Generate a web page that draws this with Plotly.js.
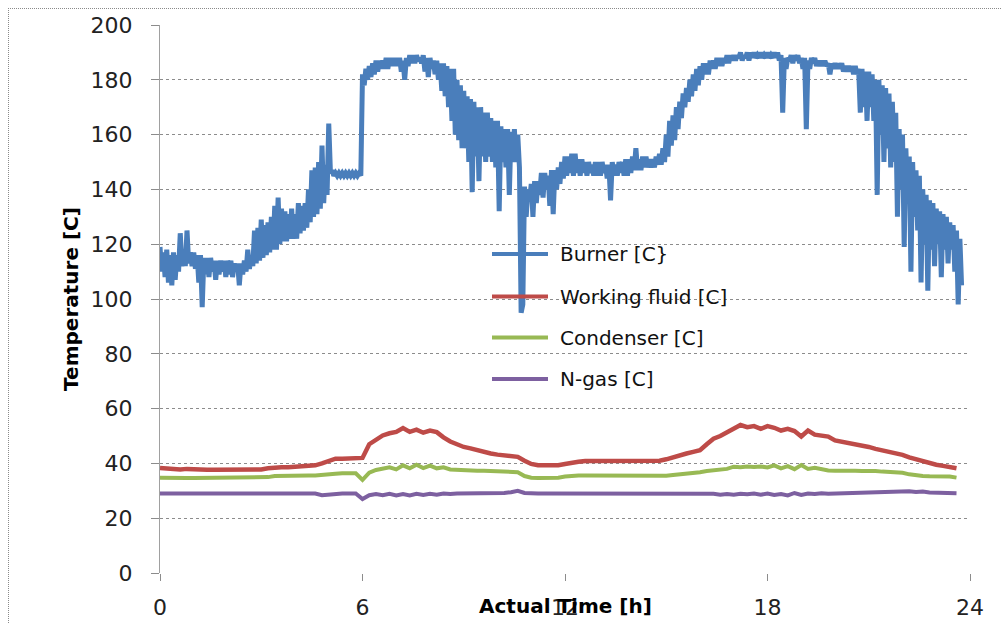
<!DOCTYPE html>
<html>
<head>
<meta charset="utf-8">
<script src="https://cdn.plot.ly/plotly-3.0.1.min.js"></script>
<style>
  html, body { margin: 0; padding: 0; background: #fff; overflow: hidden; }
  #wrap { position: relative; width: 1002px; height: 624px; }
  #chart { position: absolute; left: 0; top: 0; width: 1002px; height: 624px; }
  #frame { position: absolute; left: 8px; top: 8px; width: 1200px; height: 800px;
           border-top: 1px dotted #8a8a8a; border-left: 1px dotted #8a8a8a; pointer-events: none; }
</style>
</head>
<body>
<div id="wrap"><div id="chart"></div><div id="frame"></div></div>
<script>
// ---------------- data ----------------
const seriesNames = ["Burner [C}", "Working fluid [C]", "Condenser [C]", "N-gas [C]"];
const xTickVals = [0, 6, 12, 18, 24];
const xTickText = ["0", "6", "12", "18", "24"];

// Burner samples, every 0.05 h from 0.00 h to 23.75 h (one row per hour)
const burnerC = [
  119,110, 117,108, 118,106, 116,105, 117,107, 116,110, 124,112, 118,112, 125,113, 117,112,
  117,111, 116,106, 116,97,  115,109, 115,108, 115,110, 114,107, 114,109, 114,110, 114,108,
  114,109, 114,108, 113,110, 113,105, 113,109, 114,110, 118,111, 116,112, 125,113, 126,114,
  129,115, 127,116, 128,117, 130,118, 134,118, 137,120, 133,121, 132,121, 131,122, 133,122,
  131,122, 135,124, 134,125, 135,126, 140,128, 147,130, 148,131, 150,133, 156,135, 149,138,
  164,146, 147,145, 146,145, 146,145, 146,145, 146,145, 146,145, 146,145, 146,145, 146,145,
  182,178, 184,180, 185,181, 186,182, 187,183, 187,184, 187,184, 188,184, 188,185, 188,185,
  188,185, 188,183, 187,180, 188,185, 189,186, 189,186, 189,187, 188,186, 189,183, 188,181,
  188,184, 187,182, 187,180, 186,176, 186,174, 185,170, 184,165, 184,160, 180,158, 178,155,
  176,155, 174,150, 173,139, 172,152, 170,143, 170,152, 168,150, 168,152, 166,150, 165,148,
  165,132, 163,150, 162,148, 162,138, 161,150, 162,150, 160,148, 95,98,   141,130, 140,136,
  142,130, 143,135, 143,138, 146,137, 146,140, 145,134, 147,131, 147,140, 148,142, 150,144,
  152,145, 152,146, 153,145, 153,146, 151,145, 151,146, 150,145, 150,146, 149,145, 150,145,
  150,145, 150,146, 149,144, 149,136, 150,145, 149,145, 150,146, 150,145, 151,145, 151,146,
  152,147, 155,147, 151,147, 152,148, 152,148, 151,148, 151,148, 152,149, 153,149, 155,150,
  160,152, 165,156, 167,158, 170,162, 172,166, 175,170, 177,172, 180,174, 182,176, 184,178,
  185,180, 186,182, 186,182, 187,184, 187,184, 188,185, 188,185, 188,186, 189,186, 189,187,
  189,187, 189,188, 190,187, 189,188, 190,187, 190,188, 190,188, 189,188, 190,188, 189,188,
  190,188, 189,188, 190,188, 190,187, 189,168, 188,184, 188,187, 189,186, 189,187, 189,186,
  188,184, 188,162, 187,184, 188,186, 188,185, 187,185, 187,185, 187,185, 186,182, 186,184,
  186,184, 186,184, 186,183, 185,183, 185,183, 185,182, 185,182, 184,168, 184,170, 183,165,
  183,170, 182,165, 180,138, 180,160, 178,150, 177,155, 175,148, 172,150, 168,130, 162,140,
  160,119, 155,135, 152,110, 150,130, 147,125, 145,106, 140,120, 138,103, 136,118, 135,112,
  133,120, 132,108, 131,118, 130,113, 128,118, 127,110, 125,98,  122,105
];

// Other sensors, every 0.2 h from 0.0 h to 23.6 h
const workingFluidC = [
  38.3, 38.0, 37.8, 37.8, 38.0, 37.8, 37.7, 37.7, 37.7, 37.7,
  37.7, 37.7, 37.7, 37.8, 37.8, 37.8, 38.2, 38.5, 38.6, 38.6,
  38.8, 39.0, 39.2, 39.3, 40.0, 41.0, 41.7, 41.7, 41.7, 41.7,
  42.0, 47.0, 48.5, 50.2, 51.0, 51.5, 52.9, 51.5, 52.3, 51.2,
  52.0, 51.4, 49.5, 48.0, 47.0, 46.0, 45.5, 44.8, 44.2, 43.6,
  43.2, 43.0, 42.8, 42.4, 41.0, 39.8, 39.3, 39.2, 39.2, 39.3,
  39.8, 40.4, 40.6, 40.9, 40.9, 40.9, 40.9, 41.0, 40.9, 40.9,
  40.9, 40.9, 41.0, 41.0, 41.0, 41.5, 42.3, 43.1, 43.6, 44.2,
  44.8, 47.0, 49.0, 50.0, 51.4, 52.5, 54.0, 53.2, 53.6, 52.6,
  53.6, 53.0, 52.0, 52.6, 51.8, 49.8, 52.0, 50.5, 50.2, 49.8,
  48.4, 48.0, 47.6, 47.2, 46.6, 46.0, 45.3, 44.8, 44.2, 43.6,
  43.1, 42.2, 41.5, 40.6, 40.0, 39.5, 39.1, 38.7, 38.2
];
const condenserC = [
  34.8, 34.7, 34.7, 34.7, 34.7, 34.7, 34.7, 34.7, 34.7, 34.7,
  34.7, 34.7, 34.7, 34.7, 34.7, 34.8, 35.0, 35.4, 35.5, 35.5,
  35.5, 35.5, 35.6, 35.6, 35.7, 35.8, 36.2, 36.4, 36.4, 36.4,
  34.0, 36.6, 37.6, 38.0, 38.6, 37.8, 39.3, 38.2, 39.5, 38.3,
  39.2, 38.2, 38.6, 37.8, 37.6, 37.4, 37.4, 37.3, 37.3, 37.2,
  37.2, 37.1, 37.0, 36.8, 35.4, 34.8, 34.7, 34.7, 34.7, 34.8,
  35.2, 35.5, 35.6, 35.6, 35.6, 35.6, 35.6, 35.6, 35.6, 35.6,
  35.6, 35.6, 35.6, 35.6, 35.4, 35.5, 35.8, 36.0, 36.3, 36.6,
  36.8, 37.2, 37.4, 37.6, 38.0, 38.8, 38.6, 38.9, 38.7, 38.9,
  38.5, 39.3, 38.2, 39.0, 37.9, 39.4, 38.0, 38.4, 37.8, 37.4,
  37.3, 37.4, 37.3, 37.3, 37.2, 37.3, 37.2, 37.0, 36.9, 36.8,
  36.6, 36.0, 35.6, 35.4, 35.3, 35.3, 35.3, 35.2, 34.8
];
const nGasC = [
  29.0, 29.0, 29.0, 29.0, 29.0, 29.0, 29.0, 29.0, 29.0, 29.0,
  29.0, 29.0, 29.0, 29.0, 29.0, 29.0, 29.0, 29.0, 29.0, 29.0,
  29.0, 29.0, 29.0, 29.0, 28.4, 28.6, 29.0, 29.0, 29.0, 29.0,
  27.0, 28.4, 28.8, 28.4, 28.9, 28.3, 28.8, 28.3, 28.9, 28.5,
  28.9, 28.6, 29.0, 28.8, 29.0, 29.0, 29.1, 29.0, 29.1, 29.0,
  29.1, 29.2, 29.5, 30.0, 29.2, 29.0, 29.0, 29.0, 29.0, 29.0,
  29.0, 29.0, 29.0, 29.0, 29.0, 29.0, 29.0, 29.0, 29.0, 29.0,
  29.0, 29.0, 29.0, 28.9, 29.0, 28.9, 28.9, 28.8, 29.0, 28.8,
  28.8, 28.7, 28.9, 28.6, 28.8, 28.6, 28.9, 28.7, 29.0, 28.6,
  29.0, 28.5, 28.8, 28.3, 29.2, 28.5, 29.0, 28.8, 29.1, 28.9,
  29.0, 29.0, 29.1, 29.1, 29.2, 29.4, 29.5, 29.6, 29.7, 29.7,
  29.7, 29.8, 29.6, 29.7, 29.4, 29.3, 29.2, 29.1, 29.1
];

// sampling times (hours)
const burnerStepH = 0.05;
const sensorStepH = 0.2;
const burnerTime = burnerC.map((_, i) => +(i * burnerStepH).toFixed(2));
const sensorTime = workingFluidC.map((_, i) => +(i * sensorStepH).toFixed(2));

// ---------------- styling ----------------
const colors = ["#4A7EBB", "#BE4B48", "#98B954", "#7D60A0"];
const lineW = [5, 4.5, 4, 4];
const gridCol = "#8c8c8c";
const FONT = "DejaVu Sans, Verdana, sans-serif";

const ys = [burnerC, workingFluidC, condenserC, nGasC];
const xs = [burnerTime, sensorTime, sensorTime, sensorTime];

const traces = ys.map((y, i) => ({
  type: "scatter", mode: "lines", name: seriesNames[i],
  x: xs[i], y: y,
  line: { color: colors[i], width: lineW[i], shape: "linear" },
  showlegend: false, hoverinfo: "skip"
}));

// plot-area geometry (pixels) for the hand-placed legend
const M = { l: 160, r: 32, t: 25, b: 51 };
const W = 1002, H = 624;
const pw = W - M.l - M.r, ph = H - M.t - M.b;
const px = v => (v - M.l) / pw;
const py = v => (H - M.b - v) / ph;

const legendRowsY = [254, 296.5, 337.5, 379];
const shapes = legendRowsY.map((yy, i) => ({
  type: "line", xref: "paper", yref: "paper",
  x0: px(492), x1: px(548), y0: py(yy), y1: py(yy),
  line: { color: colors[i], width: 4 }
}));
const annotations = legendRowsY.map((yy, i) => ({
  xref: "paper", yref: "paper", x: px(558), y: py(yy),
  xanchor: "left", yanchor: "middle", showarrow: false,
  text: seriesNames[i], font: { family: FONT, size: 20, color: "#111" }
}));
annotations.push({
  xref: "paper", yref: "paper", x: 0.5, y: py(606),
  xanchor: "center", yanchor: "middle", showarrow: false,
  text: "<b>Actual Time [h]</b>", font: { family: FONT, size: 20, color: "#000" }
});

const layout = {
  width: W, height: H,
  margin: M,
  paper_bgcolor: "rgba(0,0,0,0)", plot_bgcolor: "#fff",
  showlegend: false,
  xaxis: {
    range: [0, 24], tickvals: xTickVals, ticktext: xTickText,
    ticks: "outside", ticklen: 7, tickcolor: gridCol, tickwidth: 1,
    showgrid: false, zeroline: false, showline: false,
    tickfont: { family: FONT, size: 22, color: "#222" },
    ticklabelstandoff: 8, fixedrange: true
  },
  yaxis: {
    range: [0, 200], dtick: 20, tick0: 0,
    ticks: "outside", ticklen: 8, tickcolor: gridCol, tickwidth: 1,
    showgrid: true, gridcolor: gridCol, griddash: "dot", gridwidth: 1,
    showline: true, linecolor: "#a0a0a0", linewidth: 1,
    zeroline: false,
    tickfont: { family: FONT, size: 22, color: "#222" },
    ticklabelstandoff: 14,
    title: { text: "<b>Temperature [C]</b>", font: { family: FONT, size: 20, color: "#000" }, standoff: 6 },
    fixedrange: true
  },
  shapes: shapes,
  annotations: annotations
};

Plotly.newPlot("chart", traces, layout, { displayModeBar: false, staticPlot: true });
</script>
</body>
</html>
